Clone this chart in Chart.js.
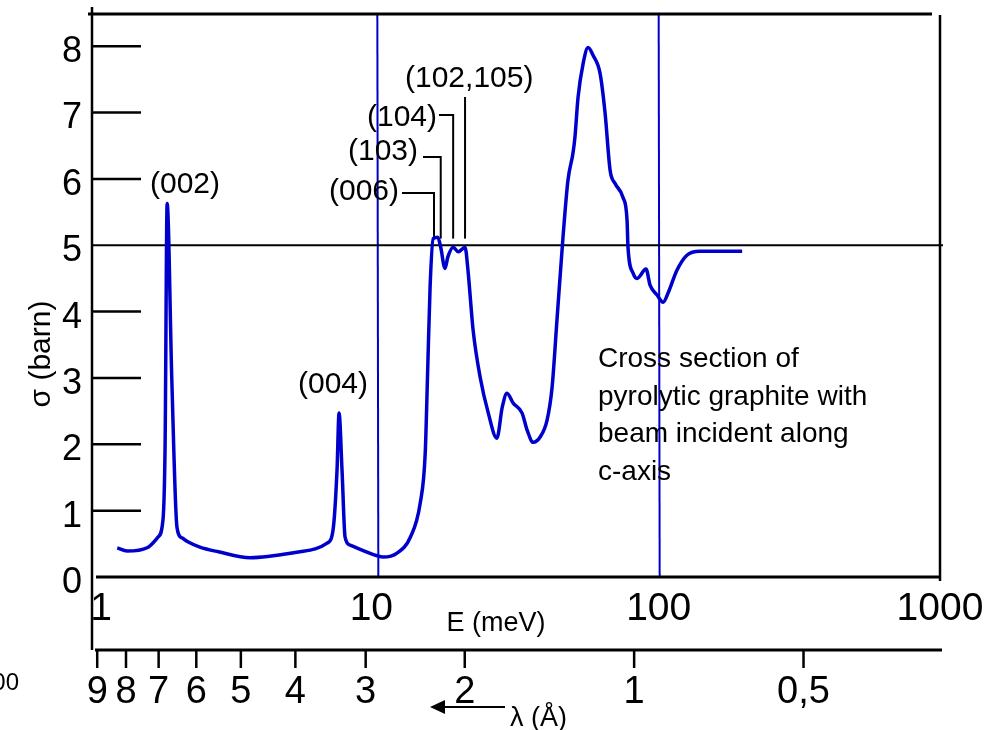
<!DOCTYPE html>
<html>
<head>
<meta charset="utf-8">
<script src="https://cdn.jsdelivr.net/npm/chart.js@4.4.1/dist/chart.umd.min.js"></script>
<style>
  html, body { margin:0; padding:0; background:#fff; }
  #wrap { width:999px; height:730px; position:relative; }
</style>
</head>
<body>
<div id="wrap"><canvas id="c"></canvas></div>
<script>

const energy = [1.19,1.29,1.52,1.66,1.73,1.76,1.79,1.86,1.94,2.02,2.12,2.34,2.72,3.53,5.31,6.63,6.96,7.19,7.31,7.49,7.68,8.0,
    9.98,10.5,11.75,13.1,14.2,14.8,15.1,15.4,15.8,16.4,16.8,17.4,17.8,18.6,19.4,20.5,21.0,21.9,23.2,24.8,26.6,27.8,28.9,30.4,
    32.7,34.1,35.8,37.9,40.1,41.8,43.5,45.7,47.6,49.6,50.4,51.7,53.9,56.1,58.5,61.9,64.5,67.2,70.0,74.7,77.2,77.8,81.1,83.8,
    90.2,93.2,98.7,103.7,108,116,126,140,198];
const sigma = [0.44,0.39,0.44,0.60,0.86,1.96,5.63,2.97,0.75,0.59,0.53,0.45,0.38,0.29,0.38,0.51,0.71,1.61,2.47,1.61,0.60,0.48,
    0.32,0.30,0.36,0.60,1.11,1.87,3.12,4.37,5.10,5.12,4.97,4.65,4.82,4.97,4.90,4.97,4.62,3.72,3.01,2.47,2.09,2.56,2.77,2.62,
    2.47,2.21,2.03,2.11,2.36,2.86,3.87,5.12,5.98,6.39,6.63,7.23,7.74,7.98,7.86,7.59,6.99,6.13,5.93,5.72,5.38,4.97,4.58,4.50,
    4.64,4.40,4.25,4.14,4.28,4.62,4.85,4.91,4.91];

const eTicks = [1,10,100,1000];
const eTickLabels = ['1','10','100','1000'];
const sigmaTicks = [0,1,2,3,4,5,6,7,8];
const lambdaTicks = [9,8,7,6,5,4,3,2,1,0.5];
const lambdaLabels = ['9','8','7','6','5','4','3','2','1','0,5'];

// reflections marked by leader lines (peak energy, meV)
const reflectionE = [15.9,16.8,18.6,20.5];
const reflectionLabels = ['(006)','(103)','(104)','(102,105)'];
const noteLines = ['Cross section of','pyrolytic graphite with','beam incident along','c-axis'];

const FONT = '"Liberation Sans", Arial, Helvetica, sans-serif';
const BLUE = '#0000cc';
const lambdaToE = l => 81.81/(l*l);

const line = (ctx,x1,y1,x2,y2,w,col)=>{
    ctx.save();
    ctx.strokeStyle = col || '#000';
    ctx.lineWidth = w;
    ctx.beginPath();
    ctx.moveTo(x1,y1);
    ctx.lineTo(x2,y2);
    ctx.stroke();
    ctx.restore();
};
const text = (ctx,str,x,y,size,align,base)=>{
    ctx.save();
    ctx.fillStyle = '#000';
    ctx.font = `${size}px ${FONT}`;
    ctx.textAlign = align || 'left';
    ctx.textBaseline = base || 'alphabetic';
    ctx.fillText(str,x,y);
    ctx.restore();
};

const framePlugin = {
    id : 'frame',
    beforeDatasetsDraw(chart){
        const {ctx, scales:{x,y}} = chart;
        const top = y.getPixelForValue(8.5), bottom = y.getPixelForValue(0);
        const left = x.getPixelForValue(1), right = x.getPixelForValue(1000);
        // blue verticals at 10 and 100
        [10,100].forEach(v=>{
            const px = x.getPixelForValue(v);
            line(ctx,px,top,px+1,bottom,2,BLUE);
        });
        // frame
        line(ctx,left-8,top+1,right-8,top+1,3);
        line(ctx,left-4,top-6,left-4,650,2.5);
        line(ctx,right,top+2,right,bottom+4,2.5);
        line(ctx,left,bottom,right,bottom,3);
        // y ticks : 5 goes all the way across
        sigmaTicks.forEach(v=>{
            const py = y.getPixelForValue(v);
            if (v==5) line(ctx,left-3,py,right+3,py,2);
            else if (v>0) line(ctx,left-3,py,left+45,py,2.5);
        });
        // leader lines for the reflections
        const lead = [[402,193],[423,157],[439,115],[465,98]];
        reflectionE.forEach((e,i)=>{
            const px = x.getPixelForValue(e);
            const py = y.getPixelForValue(5.1);
            const [hx,hy] = lead[i];
            if (hx<px) line(ctx,hx,hy,px,hy,2);
            line(ctx,px,hy-1,px,py,2);
        });
    },
    afterDraw(chart){
        const {ctx, scales:{x,y}} = chart;
        // y labels
        sigmaTicks.forEach(v=>{
            text(ctx,String(v),72,y.getPixelForValue(v)+6,36,'center','middle');
        });
        // x labels
        eTicks.forEach((v,i)=>{
            const off = i==0 ? 5 : (i==1 ? -6 : 0);
            text(ctx,eTickLabels[i],x.getPixelForValue(v)+off,620,39,'center');
        });
        text(ctx,'E (meV)',496,631,27,'center');
        ctx.save();
        ctx.translate(50,354);
        ctx.rotate(-Math.PI/2);
        text(ctx,'σ (barn)',0,0,30,'center');
        ctx.restore();

        // wavelength axis
        const ly = 650;
        line(ctx,x.getPixelForValue(1)-1,ly,x.getPixelForValue(1000)+2,ly,3);
        lambdaTicks.forEach((l,i)=>{
            const px = x.getPixelForValue(lambdaToE(l));
            line(ctx,px,ly,px,ly+18,2.5);
            text(ctx,lambdaLabels[i],px,703,38,'center');
        });
        // arrow + lambda title
        line(ctx,440,707,505,707,2);
        ctx.save();
        ctx.fillStyle = '#000';
        ctx.beginPath();
        ctx.moveTo(430,707);
        ctx.lineTo(445,700);
        ctx.lineTo(445,714);
        ctx.closePath();
        ctx.fill();
        ctx.restore();
        text(ctx,'λ (Å)',510,726,27,'left');
        text(ctx,'1000',19,690,24,'right');

        // peak labels
        text(ctx,'(002)',185,193,30,'center');
        text(ctx,'(004)',333,393,30,'center');
        const labelPos = [[399,200],[418,160],[437,126],[405,87]];
        reflectionLabels.forEach((s,i)=>{
            const [lx,ly2] = labelPos[i];
            if (i<3) text(ctx,s,lx,ly2,30,'right');
            else text(ctx,s,lx,ly2,30,'left');
        });
        // note
        noteLines.forEach((s,i)=>{
            text(ctx,s,598,367+i*37.5,28,'left');
        });
    }
};

const ctx = document.getElementById('c').getContext('2d');
const chart = new Chart(ctx,{
    type : 'line',
    data : {
        datasets : [{
            label : 'sigma',
            data : energy.map((e,i)=>({x:e,y:sigma[i]})),
            borderColor : BLUE,
            borderWidth : 3.5,
            pointRadius : 0,
            fill : false,
            cubicInterpolationMode : 'monotone'
        }]
    },
    options : {
        responsive : true,
        maintainAspectRatio : false,
        animation : false,
        layout : { padding : { left:96, right:59, top:13, bottom:153 } },
        plugins : { legend : { display:false }, tooltip : { enabled:false } },
        scales : {
            x : { type:'logarithmic', min:1, max:1000, display:false },
            y : { type:'linear', min:0, max:8.5, display:false }
        }
    },
    plugins : [framePlugin]
});
</script>
</body>
</html>
